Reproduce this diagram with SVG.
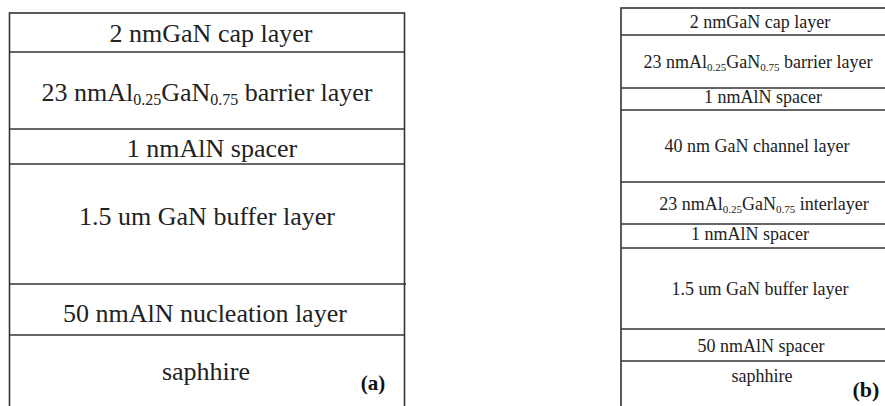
<svg xmlns="http://www.w3.org/2000/svg" width="885" height="406" viewBox="0 0 885 406">
<style>
.frame{fill:#fff;stroke:#333;stroke-width:1.6}
.ln{stroke:#333;stroke-width:1.5}
</style>
<rect width="885" height="406" fill="#fff"/>
<g id="diagram-a" font-family="Liberation Serif" font-size="26" fill="#222" text-anchor="middle">
<rect class="frame" x="9.5" y="13" width="395" height="420"/>
<g id="a-cap"><line class="ln" x1="9.5" y1="52" x2="404.5" y2="52"/><text x="211" y="42">2 nmGaN cap layer</text></g>
<g id="a-barrier"><line class="ln" x1="9.5" y1="129" x2="404.5" y2="129"/><text x="207" y="101">23 nmAl<tspan font-size="16" dy="4">0.25</tspan><tspan dy="-4">GaN</tspan><tspan font-size="16" dy="4">0.75</tspan><tspan dy="-4"> barrier layer</tspan></text></g>
<g id="a-spacer"><line class="ln" x1="9.5" y1="164" x2="404.5" y2="164"/><text x="212" y="157">1 nmAlN spacer</text></g>
<g id="a-buffer"><line class="ln" x1="9.5" y1="284" x2="406" y2="284"/><text x="207" y="225">1.5 um GaN buffer layer</text></g>
<g id="a-nucleation"><line class="ln" x1="9.5" y1="335" x2="404.5" y2="335"/><text x="205" y="322">50 nmAlN nucleation layer</text></g>
<g id="a-substrate"><text x="206" y="380">saphhire</text><text x="373" y="390" font-size="21" font-weight="bold" fill="#111">(a)</text></g>
</g>
<g id="diagram-b" font-family="Liberation Serif" font-size="18" fill="#222" text-anchor="middle">
<rect class="frame" x="621" y="8" width="280" height="420"/>
<g id="b-cap"><line class="ln" x1="621" y1="35" x2="885" y2="35"/><text x="760" y="28">2 nmGaN cap layer</text></g>
<g id="b-barrier"><line class="ln" x1="621" y1="88" x2="885" y2="88"/><text x="758" y="68">23 nmAl<tspan font-size="11" dy="3">0.25</tspan><tspan dy="-3">GaN</tspan><tspan font-size="11" dy="3">0.75</tspan><tspan dy="-3"> barrier layer</tspan></text></g>
<g id="b-spacer1"><line class="ln" x1="621" y1="110" x2="885" y2="110"/><text x="763" y="103">1 nmAlN spacer</text></g>
<g id="b-channel"><line class="ln" x1="621" y1="182" x2="885" y2="182"/><text x="757" y="152">40 nm GaN channel layer</text></g>
<g id="b-interlayer"><line class="ln" x1="621" y1="224" x2="885" y2="224"/><text x="764" y="210">23 nmAl<tspan font-size="11" dy="3">0.25</tspan><tspan dy="-3">GaN</tspan><tspan font-size="11" dy="3">0.75</tspan><tspan dy="-3"> interlayer</tspan></text></g>
<g id="b-spacer2"><line class="ln" x1="621" y1="248" x2="885" y2="248"/><text x="750" y="240">1 nmAlN spacer</text></g>
<g id="b-buffer"><line class="ln" x1="621" y1="329" x2="885" y2="329"/><text x="760" y="295">1.5 um GaN buffer layer</text></g>
<g id="b-spacer3"><line class="ln" x1="621" y1="361" x2="885" y2="361"/><text x="761" y="352">50 nmAlN spacer</text></g>
<g id="b-substrate"><text x="762" y="382">saphhire</text><text x="866" y="397" font-size="22" font-weight="bold" fill="#111">(b)</text></g>
</g>
</svg>
